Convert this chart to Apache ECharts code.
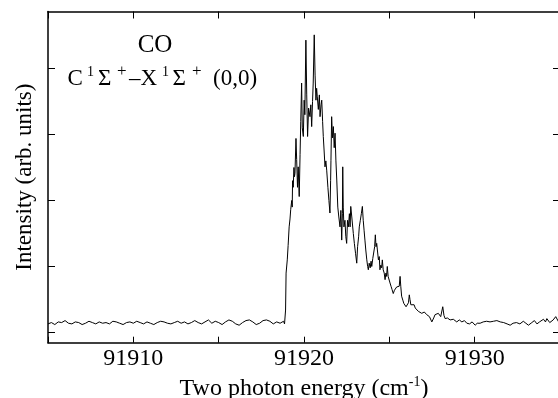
<!DOCTYPE html>
<html>
<head>
<meta charset="utf-8">
<script src="https://cdn.jsdelivr.net/npm/echarts@6/dist/echarts.min.js"></script>
<style>
html,body{margin:0;padding:0;background:#fff;}
#chart{width:558px;height:398px;}
</style>
</head>
<body>
<div id="chart"></div>
<script>
// ---- data ----
var xTicks = [91910, 91920, 91930];
var yTickValues = [0, 1, 2, 3, 4];

var baselineLeft = [
[91905.0,0.13],[91905.2,0.15],[91905.4,0.12],[91905.6,0.16],[91905.8,0.15],[91906.0,0.18],[91906.2,0.14],[91906.4,0.13],
[91906.6,0.16],[91906.8,0.15],[91907.0,0.12],[91907.2,0.14],[91907.4,0.17],[91907.6,0.15],[91907.8,0.13],[91908.0,0.16],
[91908.2,0.14],[91908.4,0.15],[91908.6,0.13],[91908.8,0.17],[91909.0,0.16],[91909.2,0.14],[91909.4,0.12],[91909.6,0.15],
[91909.8,0.16],[91910.0,0.14],[91910.2,0.17],[91910.4,0.15],[91910.6,0.13],[91910.8,0.16],[91911.0,0.14],[91911.2,0.12],
[91911.4,0.15],[91911.6,0.17],[91911.8,0.16],[91912.0,0.14],[91912.2,0.13],[91912.4,0.15],[91912.6,0.17],[91912.8,0.14],
[91913.0,0.16],[91913.2,0.13],[91913.4,0.15],[91913.6,0.18],[91913.8,0.15],[91914.0,0.13],[91914.2,0.16],[91914.4,0.19],
[91914.6,0.14],[91914.8,0.17],[91915.0,0.15],[91915.2,0.12],[91915.4,0.16],[91915.6,0.19],[91915.8,0.17],[91916.0,0.13],
[91916.2,0.11],[91916.4,0.15],[91916.6,0.18],[91916.8,0.19],[91917.0,0.16],[91917.2,0.12],[91917.4,0.14],[91917.6,0.18],
[91917.8,0.19],[91918.0,0.17],[91918.2,0.13],[91918.4,0.16],[91918.6,0.14],[91918.8,0.17]
];

var band = [
[91918.86,0.13],[91918.92,0.34],[91918.95,0.90],[91919.02,1.10],[91919.07,1.32],[91919.13,1.60],[91919.18,1.72],
[91919.22,1.86],[91919.28,2.00],[91919.31,1.90],[91919.33,2.30],[91919.37,2.20],[91919.41,2.50],[91919.44,2.36],
[91919.47,2.41],[91919.53,2.94],[91919.57,2.62],[91919.62,2.20],[91919.66,2.51],[91919.72,2.06],[91919.77,2.70],
[91919.81,3.20],[91919.86,3.78],[91919.90,3.10],[91919.96,2.97],[91920.01,3.52],[91920.05,3.30],[91920.11,4.43],
[91920.16,3.60],[91920.21,2.97],[91920.27,3.40],[91920.35,3.27],[91920.40,3.45],[91920.45,3.12],[91920.50,3.50],
[91920.54,3.78],[91920.60,4.51],[91920.65,3.90],[91920.70,3.52],[91920.74,3.70],[91920.78,3.57],[91920.84,3.38],
[91920.90,3.60],[91920.94,3.27],[91921.00,3.45],[91921.04,3.52],[91921.09,3.20],[91921.13,2.97],[91921.18,2.75],
[91921.23,2.51],[91921.28,2.60],[91921.33,2.46],[91921.40,2.20],[91921.46,2.00],[91921.52,1.81],[91921.56,2.30],
[91921.58,2.61],[91921.62,3.27],[91921.67,2.95],[91921.72,3.12],[91921.77,2.80],[91921.82,3.02],[91921.87,2.60],
[91921.92,2.31],[91921.98,1.90],[91922.04,1.75],[91922.11,1.60],[91922.16,1.85],[91922.21,1.40],[91922.25,1.80],
[91922.27,2.51],[91922.30,1.90],[91922.34,1.60],[91922.40,1.70],[91922.45,1.45],[91922.50,1.35],[91922.55,1.70],
[91922.60,1.60],[91922.66,1.80],[91922.70,1.60],[91922.74,1.91],[91922.80,1.75],[91922.89,1.50],[91922.95,1.35],
[91923.02,1.20],[91923.09,1.05],[91923.14,1.30],[91923.20,1.45],[91923.24,1.60],[91923.30,1.70],[91923.36,1.80],
[91923.42,1.91],[91923.47,1.70],[91923.52,1.55],[91923.57,1.40],[91923.62,1.25],[91923.68,1.10],[91923.73,1.00],
[91923.77,0.95],[91923.82,1.05],[91923.88,0.98],[91923.93,1.08],[91923.97,1.00],[91924.03,1.12],[91924.10,1.10],
[91924.14,1.30],[91924.18,1.48],[91924.22,1.30],[91924.26,1.35],[91924.30,1.25],[91924.36,1.10],[91924.41,1.15],
[91924.45,0.95],[91924.50,1.02],[91924.55,0.98],[91924.59,1.10],[91924.64,0.95],[91924.70,0.90],[91924.75,0.80],
[91924.80,0.90],[91924.84,0.85],[91924.88,1.00],[91924.93,0.85],[91924.98,0.82],[91925.04,0.75],[91925.10,0.70],
[91925.16,0.65],[91925.23,0.59],[91925.30,0.64],[91925.36,0.62],[91925.43,0.69],[91925.48,0.66],[91925.53,0.72],
[91925.58,0.70],[91925.63,0.85],[91925.67,0.70],[91925.72,0.55],[91925.79,0.49],[91925.85,0.44],[91925.92,0.45],
[91925.98,0.39],[91926.06,0.42],[91926.12,0.45],[91926.17,0.57],[91926.21,0.50],[91926.26,0.42],[91926.31,0.39],
[91926.37,0.40],[91926.45,0.42],[91926.52,0.37],[91926.61,0.34],[91926.70,0.32]
];

var baselineRight = [
[91926.80,0.30],[91926.90,0.29],[91927.05,0.31],[91927.19,0.27],[91927.35,0.24],[91927.49,0.16],[91927.60,0.22],
[91927.68,0.27],[91927.87,0.29],[91928.01,0.24],[91928.13,0.39],[91928.20,0.26],[91928.27,0.21],[91928.40,0.22],
[91928.56,0.19],[91928.75,0.20],[91928.95,0.16],[91929.10,0.19],[91929.25,0.16],[91929.40,0.18],[91929.54,0.14],
[91929.70,0.13],[91929.85,0.16],[91930.03,0.11],[91930.15,0.14],[91930.32,0.14],[91930.50,0.16],[91930.70,0.17],
[91930.90,0.16],[91931.10,0.17],[91931.30,0.18],[91931.50,0.16],[91931.70,0.15],[91931.90,0.13],[91932.08,0.11],
[91932.25,0.14],[91932.45,0.15],[91932.65,0.13],[91932.85,0.17],[91933.00,0.14],[91933.15,0.11],[91933.35,0.15],
[91933.50,0.18],[91933.65,0.13],[91933.80,0.16],[91934.03,0.20],[91934.15,0.16],[91934.23,0.21],[91934.40,0.15],
[91934.60,0.19],[91934.75,0.24],[91934.90,0.17],[91935.00,0.20]
];

var spectrum = baselineLeft.concat(band, baselineRight);

// ---- chart ----
var FONT = '"Liberation Serif", "DejaVu Serif", serif';
var chart = echarts.init(document.getElementById('chart'), null, {renderer: 'canvas'});

function xAxisBase(pos) {
  return {
    type: 'value', position: pos, min: 91905, max: 91935, interval: 5,
    axisLine: {show: true, onZero: false, lineStyle: {color: '#000', width: 1.5}},
    axisTick: {show: true, inside: true, length: 6, lineStyle: {color: '#000', width: 1}},
    splitLine: {show: false}
  };
}
function yAxisBase(pos) {
  return {
    type: 'value', position: pos, min: -0.155, max: 4.864,
    axisLine: {show: true, onZero: false, lineStyle: {color: '#000', width: 1.5}},
    axisTick: {show: true, inside: true, length: 7, customValues: yTickValues, lineStyle: {color: '#000', width: 1}},
    axisLabel: {show: false},
    splitLine: {show: false}
  };
}

var xBottom = xAxisBase('bottom');
xBottom.axisLabel = {
  show: true, color: '#000', fontFamily: FONT, fontSize: 24, margin: 4,
  formatter: function (v) { return xTicks.indexOf(v) >= 0 ? String(v) : ''; }
};
xBottom.name = '{a|Two photon energy (cm}{s|-1}{a|)}';
xBottom.nameLocation = 'middle';
xBottom.nameGap = 27;
xBottom.nameTextStyle = {
  rich: {
    a: {fontFamily: FONT, fontSize: 24, color: '#000', lineHeight: 26},
    s: {fontFamily: FONT, fontSize: 14, color: '#000', lineHeight: 26, verticalAlign: 'top', padding: [0, 0, 12, 0]}
  }
};
var xTop = xAxisBase('top');
xTop.axisTick.length = 7;
xTop.axisLabel = {show: false};

var yLeft = yAxisBase('left');
yLeft.name = 'Intensity (arb. units)';
yLeft.nameLocation = 'middle';
yLeft.nameGap = 12;
yLeft.nameTextStyle = {fontFamily: FONT, fontSize: 23, color: '#000'};
var yRight = yAxisBase('right');

var main = 23, sup = 14;
function txt(t, x, y, size, align) {
  return {
    type: 'text', x: x, y: y, silent: true,
    style: {text: t, fill: '#000', font: size + 'px ' + FONT,
            align: align || 'left', verticalAlign: 'middle',
            textAlign: align || 'left', textVerticalAlign: 'middle'}
  };
}

chart.setOption({
  animation: false,
  backgroundColor: '#fff',
  grid: {left: 48, top: 11.5, right: -2, bottom: 55.3, containLabel: false, outerBoundsMode: 'none'},
  xAxis: [xBottom, xTop],
  yAxis: [yLeft, yRight],
  series: [{
    type: 'line', xAxisIndex: 0, yAxisIndex: 0, data: spectrum,
    showSymbol: false, symbol: 'none', smooth: false, sampling: 'none',
    lineStyle: {color: '#000', width: 1}
  }],
  graphic: [
    txt('CO', 155, 45.5, 25, 'center'),
    txt('C', 67.5, 78.5, main),
    txt('1', 87, 72, sup),
    txt('\u03A3', 98, 78.5, main),
    txt('+', 117, 72, 17),
    txt('\u2013', 129, 78.5, main),
    txt('X', 140.5, 78.5, main),
    txt('1', 162, 72, sup),
    txt('\u03A3', 172.5, 78.5, main),
    txt('+', 192, 72, 17),
    txt('(0,0)', 213, 78.5, main)
  ]
});
</script>
</body>
</html>
